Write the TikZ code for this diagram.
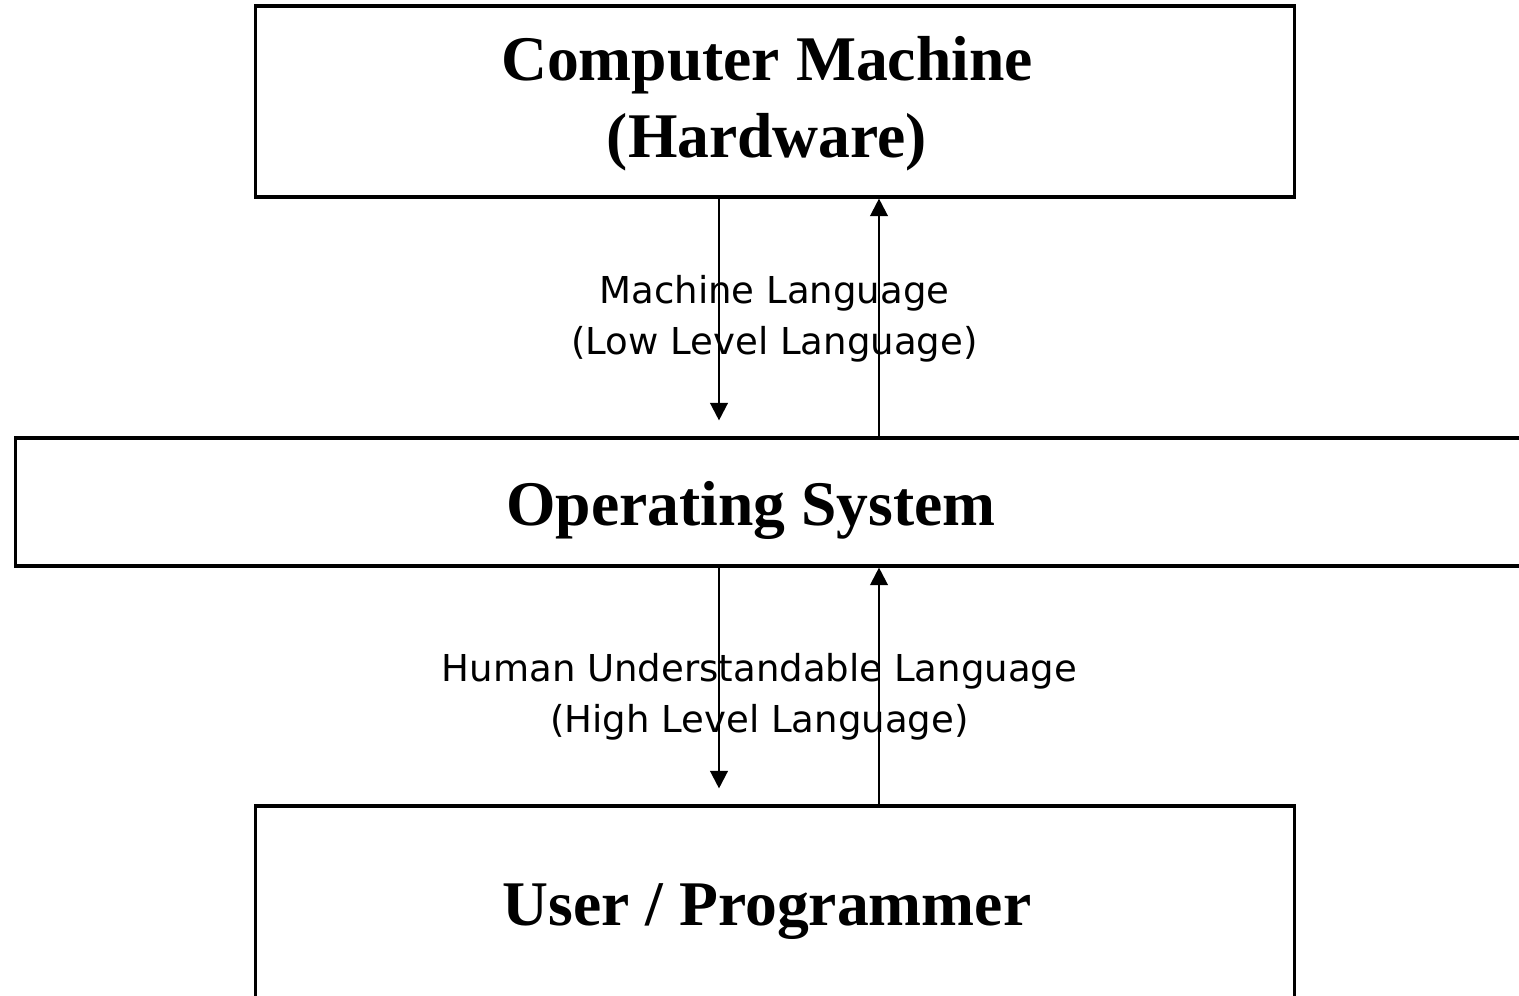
\documentclass[tikz,border=0pt]{standalone}
\usepackage{fontspec}
\setmainfont{Liberation Serif}
\newfontfamily\labelfont{DejaVu Sans}
\usetikzlibrary{arrows.meta}
\begin{document}
\begin{tikzpicture}[x=0.02cm,y=-0.02cm,
  box/.style={draw=black,line width=1.8pt,inner sep=0pt,fill=none},
  title/.style={font=\fontsize{36.2}{44}\selectfont\bfseries,align=center,inner sep=0pt},
  lab/.style={font=\labelfont\fontsize{21.1}{28.8}\selectfont,align=center,inner sep=0pt},
  arr/.style={line width=1.3pt,-{Triangle[width=10pt,length=10pt]}}]
\useasboundingbox (0,0) rectangle (1519,995);
\clip (0,0) rectangle (1519,995);
\fill[white] (0,0) rectangle (1519,995);
% boxes
\node[box,minimum width=20.8cm,minimum height=3.82cm] (top) at (775,101.5) {};
\node[box,minimum width=30.3cm,minimum height=2.56cm] (mid) at (772.5,502) {};
\node[box,minimum width=20.8cm,minimum height=4.08cm] (bot) at (775,908) {};
% titles
\node[title] (ttop) at (767,104) {Computer Machine\\(Hardware)};
\node[title] (tmid) at (751,510) {Operating System};
\node[title] (tbot) at (767,912) {User / Programmer};
% arrow columns
\coordinate (xa) at (719,0);
\coordinate (xb) at (879,0);
\draw[arr,shorten >=0.32cm] (top.south -| xa) -- (mid.north -| xa);
\draw[arr] (mid.north -| xb) -- (top.south -| xb);
\draw[arr,shorten >=0.32cm] (mid.south -| xa) -- (bot.north -| xa);
\draw[arr] (bot.north -| xb) -- (mid.south -| xb);
% labels
\node[lab] (l1) at (774.5,319) {Machine Language\\(Low Level Language)};
\node[lab] (l2) at (759.5,697) {Human Understandable Language\\(High Level Language)};
\end{tikzpicture}
\end{document}
